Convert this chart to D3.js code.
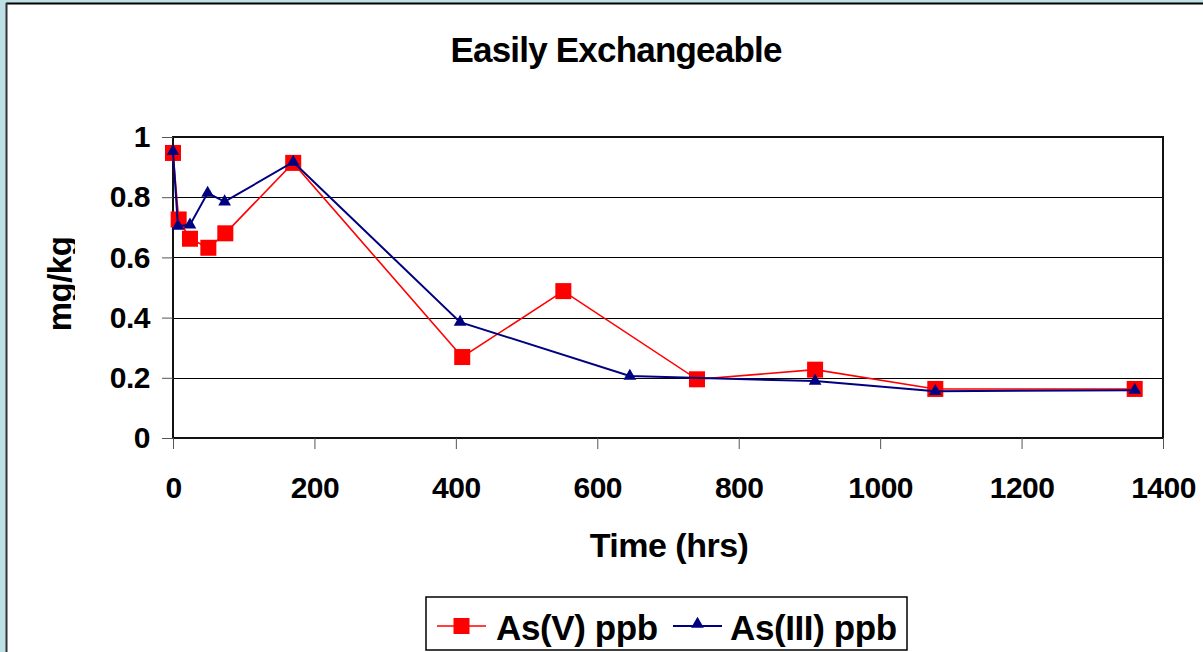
<!DOCTYPE html>
<html>
<head>
<meta charset="utf-8">
<script src="https://cdn.jsdelivr.net/npm/d3@7"></script>
<style>
  html, body { margin: 0; padding: 0; background: #bde1e4; }
  svg { display: block; }
  text { font-family: "Liberation Sans", Arial, sans-serif; font-weight: bold; fill: #000; }
</style>
</head>
<body>
<svg id="chart" width="1203" height="652"></svg>
<script>
// Sampling times (hrs) and concentrations (mg/kg) for each species
const timeV   = [0, 8, 24, 50, 74, 170, 409, 552, 741, 908, 1078, 1360];
const asV     = [0.947, 0.726, 0.662, 0.632, 0.680, 0.914, 0.269, 0.488, 0.195, 0.227, 0.163, 0.163];
const timeIII = [0, 7, 24, 49, 73, 170, 406, 646, 908, 1078, 1360];
const asIII   = [0.952, 0.704, 0.708, 0.814, 0.785, 0.917, 0.385, 0.206, 0.189, 0.155, 0.159];

const xTicks = [0, 200, 400, 600, 800, 1000, 1200, 1400];
const yTicks = [0, 0.2, 0.4, 0.6, 0.8, 1];

const seriesNames = ["As(V) ppb", "As(III) ppb"];
const chartTitle = "Easily Exchangeable";
const xTitle = "Time (hrs)";
const yTitle = "mg/kg";

const svg = d3.select("#chart");

// white chart panel with dark top/left edge
svg.append("rect").attr("x", 7).attr("y", 4).attr("width", 1203).attr("height", 660).attr("fill", "#fff");
svg.append("line").attr("x1", 6).attr("x2", 1203).attr("y1", 3.5).attr("y2", 3.5).attr("stroke", "#000").attr("stroke-width", 2);
svg.append("line").attr("x1", 6.5).attr("x2", 6.5).attr("y1", 3).attr("y2", 652).attr("stroke", "#333").attr("stroke-width", 2);

const plot = { left: 173, top: 137, right: 1163, bottom: 438 };

const x = d3.scaleLinear().domain([0, 1400]).range([plot.left, plot.right]);
const y = d3.scaleLinear().domain([0, 1]).range([plot.bottom, plot.top]);

// title
svg.append("text").attr("x", 616).attr("y", 62).attr("text-anchor", "middle")
  .attr("font-size", 35).attr("letter-spacing", -0.8).text(chartTitle);

// horizontal gridlines
svg.append("g").selectAll("line").data(yTicks.filter(d => d > 0 && d < 1)).join("line")
  .attr("x1", plot.left).attr("x2", plot.right)
  .attr("y1", d => Math.round(y(d)) + 0.5).attr("y2", d => Math.round(y(d)) + 0.5)
  .attr("stroke", "#000").attr("stroke-width", 1);

// plot frame
svg.append("rect").attr("x", plot.left).attr("y", plot.top)
  .attr("width", plot.right - plot.left).attr("height", plot.bottom - plot.top)
  .attr("fill", "none").attr("stroke", "#111").attr("stroke-width", 2);

const styleTicks = g => g.selectAll(".tick text").attr("font-size", 30).attr("letter-spacing", -0.5)
  .attr("font-family", "Liberation Sans, Arial, sans-serif").attr("font-weight", "bold").attr("fill", "#000");

// y axis
const yAxis = d3.axisLeft(y).tickValues(yTicks).tickSize(11).tickPadding(12)
  .tickFormat(d => String(+d.toFixed(1)));
const gy = svg.append("g").attr("transform", `translate(${plot.left},0)`).call(yAxis);
gy.select(".domain").remove();
gy.selectAll(".tick line").attr("stroke", "#555");
styleTicks(gy);

// x axis
const xAxis = d3.axisBottom(x).tickValues(xTicks).tickSize(11).tickPadding(28).tickFormat(d3.format("d"));
const gx = svg.append("g").attr("transform", `translate(0,${plot.bottom})`).call(xAxis);
gx.select(".domain").remove();
gx.selectAll(".tick line").attr("stroke", "#555");
styleTicks(gx);

// axis titles
svg.append("text").attr("x", 669).attr("y", 557).attr("text-anchor", "middle")
  .attr("font-size", 34).attr("letter-spacing", -0.5).text(xTitle);

// y title, its descender cut off at x = 75
svg.append("clipPath").attr("id", "ytitle-clip")
  .append("rect").attr("x", 0).attr("y", 0).attr("width", 75).attr("height", 652);
svg.append("g").attr("clip-path", "url(#ytitle-clip)")
  .append("text")
  .attr("transform", "translate(71,284) rotate(-90)").attr("text-anchor", "middle")
  .attr("font-size", 33).attr("letter-spacing", -0.5).text(yTitle);

// series
const line = d3.line().x(d => x(d[0])).y(d => y(d[1]));
const dataV = timeV.map((t, i) => [t, asV[i]]);
const dataIII = timeIII.map((t, i) => [t, asIII[i]]);

const tri = d3.symbol().type(d3.symbolTriangle).size(70);

svg.append("path").datum(dataV).attr("d", line).attr("fill", "none").attr("stroke", "#ff0000").attr("stroke-width", 1.6);
svg.append("g").selectAll("rect").data(dataV).join("rect")
  .attr("x", d => x(d[0]) - 8).attr("y", d => y(d[1]) - 8)
  .attr("width", 16).attr("height", 16).attr("fill", "#ff0000");

svg.append("path").datum(dataIII).attr("d", line).attr("fill", "none").attr("stroke", "#000080").attr("stroke-width", 2);
svg.append("g").selectAll("path").data(dataIII).join("path")
  .attr("transform", d => `translate(${x(d[0])},${y(d[1])})`)
  .attr("d", tri).attr("fill", "#000080");

// legend
const lg = svg.append("g");
lg.append("rect").attr("x", 426).attr("y", 597).attr("width", 481).attr("height", 53)
  .attr("fill", "#fff").attr("stroke", "#000").attr("stroke-width", 1.5);
const items = [
  { name: seriesNames[0], color: "#ff0000", x0: 437, tx: 496, marker: "square" },
  { name: seriesNames[1], color: "#000080", x0: 673, tx: 730, marker: "triangle" }
];
items.forEach(it => {
  lg.append("line").attr("x1", it.x0).attr("x2", it.x0 + 49).attr("y1", 626).attr("y2", 626)
    .attr("stroke", it.color).attr("stroke-width", it.marker === "square" ? 1.6 : 2);
  if (it.marker === "square") {
    lg.append("rect").attr("x", it.x0 + 24.5 - 8).attr("y", 618).attr("width", 16).attr("height", 16).attr("fill", it.color);
  } else {
    lg.append("path").attr("transform", `translate(${it.x0 + 24.5},${624})`).attr("d", tri).attr("fill", it.color);
  }
  lg.append("text").attr("x", it.tx).attr("y", 640).attr("font-size", 35).attr("letter-spacing", -0.4).text(it.name);
});
</script>
</body>
</html>
